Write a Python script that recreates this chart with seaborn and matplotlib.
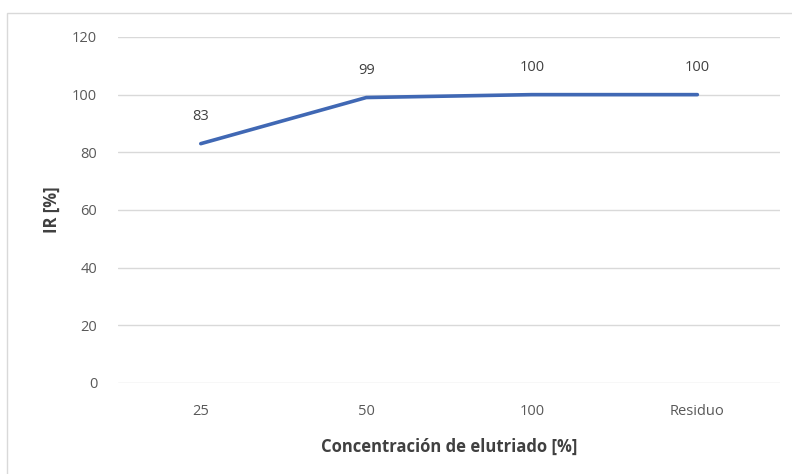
import matplotlib
matplotlib.use("Agg")
import matplotlib.pyplot as plt
from matplotlib.patches import Rectangle
import pandas as pd
import seaborn as sns

# values
categorias = ["25", "50", "100", "Residuo"]
ir_valores = [83, 99, 100, 100]
y_ticks = [0, 20, 40, 60, 80, 100, 120]

sns.set_style("white")
plt.rcParams['font.family'] = ['Open Sans', 'DejaVu Sans']

df = pd.DataFrame({"pos": range(len(categorias)), "ir": ir_valores})

fig = plt.figure(figsize=(7.92, 4.74), dpi=100)
ax = fig.add_axes([0.149, 0.192, 0.836, 0.730])

# chart border like the Excel frame
fig.patches.append(Rectangle((0.009, -0.01), 1.0, 0.983, transform=fig.transFigure,
                             fill=False, edgecolor='#d9d9d9', linewidth=1.0))

sns.lineplot(data=df, x="pos", y="ir", ax=ax, color='#4068b4', linewidth=2.6)

for x, v in zip(df["pos"], df["ir"]):
    ax.annotate(str(v), (x, v), xytext=(0, 14), textcoords='offset points',
                ha='center', va='bottom', fontsize=10.5, color='#404040')

ax.set_xlim(-0.5, len(categorias) - 0.5)
ax.set_ylim(0, 120)
ax.set_yticks(y_ticks)
ax.set_xticks(range(len(categorias)))
ax.set_xticklabels(categorias)
ax.yaxis.grid(True, color='#d9d9d9', linewidth=1)
ax.tick_params(axis='both', length=0, labelsize=10.5, labelcolor='#595959')
ax.tick_params(axis='y', pad=15)
ax.tick_params(axis='x', pad=15)
for s in ax.spines.values():
    s.set_visible(False)

ax.set_xlabel("Concentración de elutriado [%]", fontsize=12, fontweight='bold',
              color='#404040', labelpad=14)
ax.set_ylabel("IR [%]", fontsize=12, fontweight='bold', color='#404040', labelpad=8)

fig.savefig("out.png", dpi=100)
